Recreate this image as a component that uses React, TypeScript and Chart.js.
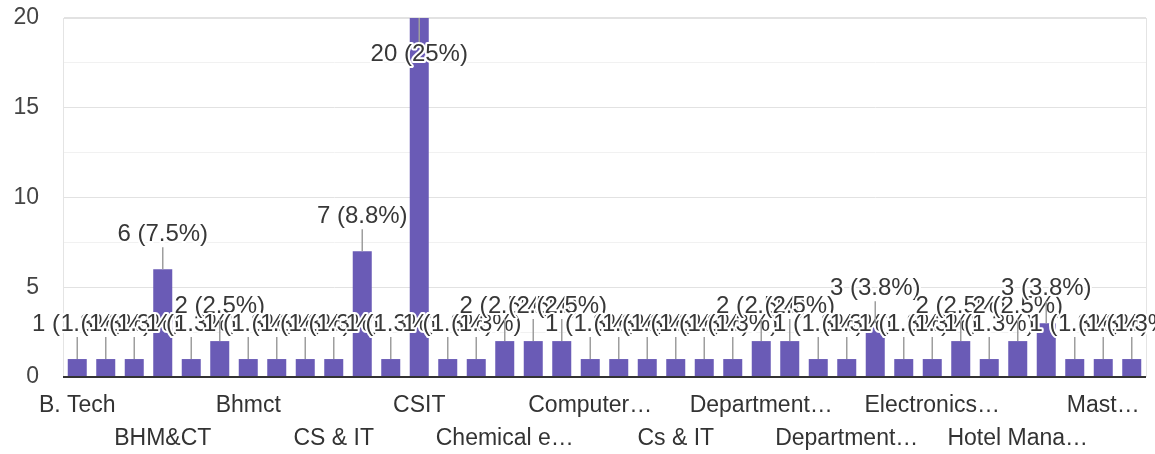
import React, { useEffect, useRef } from 'react';
import { Chart, registerables } from 'chart.js';

Chart.register(...registerables);

// Categories (only every third one is shown on the axis, as in the reference)
const categories: string[] = [
  'B. Tech', 'B.Tech', 'BBA', 'BHM&CT', 'BHMCT', 'BTech', 'Bhmct', 'CS', 'CS & E', 'CS & IT',
  'CS&IT', 'CSE', 'CSIT', 'Chemical', 'Chemical Engg', 'Chemical e…', 'Civil', 'Commerce',
  'Computer…', 'Computer science', 'Cs', 'Cs & IT', 'Cs&it', 'Csit', 'Department…',
  'Department of CS', 'Department of IT', 'Department…', 'ECE', 'EEE', 'Electronics…',
  'English', 'Hotel Management', 'Hotel Mana…', 'IT', 'MBA', 'Mast…', 'Mca',
];

// Number of responses per category
const responses: number[] = [
  1, 1, 1, 6, 1, 2, 1, 1, 1, 1,
  7, 1, 20, 1, 1, 2, 2, 2, 1, 1,
  1, 1, 1, 1, 2, 2, 1, 1, 3, 1,
  1, 2, 1, 2, 3, 1, 1, 1,
];

const yMin = 0;
const yMax = 20;
const yStep = 2.5;
const yLabelEvery = 5;

const BAR_COLOR = '#6a5bb6';
const FONT_FAMILY = '"Liberation Sans", Arial, sans-serif';

const total = responses.reduce((a, b) => a + b, 0);
const labelText = (v: number) => `${v} (${Math.round((v * 1000) / total) / 10}%)`;

const framePlugin = {
  id: 'gfFrame',
  beforeDatasetsDraw(chart: any) {
    const { ctx, chartArea: a } = chart;
    ctx.save();
    ctx.strokeStyle = '#e4e4e4';
    ctx.lineWidth = 1;
    ctx.beginPath();
    ctx.moveTo(a.right + 0.5, a.top);
    ctx.lineTo(a.right + 0.5, a.bottom);
    ctx.stroke();
    ctx.restore();
  },
  afterDatasetsDraw(chart: any) {
    const { ctx, chartArea: a } = chart;
    ctx.save();
    // baseline
    ctx.strokeStyle = '#333333';
    ctx.lineWidth = 2;
    ctx.beginPath();
    ctx.moveTo(a.left, a.bottom);
    ctx.lineTo(a.right, a.bottom);
    ctx.stroke();

    const meta = chart.getDatasetMeta(0);
    const values = chart.data.datasets[0].data as number[];
    ctx.font = `24px ${FONT_FAMILY}`;
    ctx.textAlign = 'center';
    ctx.textBaseline = 'middle';
    meta.data.forEach((bar: any, i: number) => {
      const x = bar.x;
      const top = bar.y;
      let ty: number, l0: number, l1: number;
      if (top - 36 < 14) {
        ty = top + 36;
        l0 = top;
        l1 = top + 24;
      } else {
        ty = top - 35;
        l0 = top - 22;
        l1 = top;
      }
      ctx.strokeStyle = '#9e9e9e';
      ctx.lineWidth = 1.5;
      ctx.beginPath();
      ctx.moveTo(x, l0);
      ctx.lineTo(x, l1);
      ctx.stroke();

      const t = labelText(values[i]);
      ctx.lineJoin = 'round';
      ctx.strokeStyle = '#ffffff';
      ctx.lineWidth = 4;
      ctx.strokeText(t, x, ty);
      ctx.fillStyle = '#383838';
      ctx.fillText(t, x, ty);
    });
    ctx.restore();
  },
};

export default function App() {
  const canvasRef = useRef<HTMLCanvasElement | null>(null);

  useEffect(() => {
    if (!canvasRef.current) return;
    const chart = new Chart(canvasRef.current, {
      type: 'bar',
      data: {
        labels: categories,
        datasets: [
          {
            data: responses,
            backgroundColor: BAR_COLOR,
            borderWidth: 0,
            barPercentage: 0.667,
            categoryPercentage: 1,
          },
        ],
      },
      options: {
        animation: false,
        responsive: false,
        layout: { padding: { top: 18, right: 9, left: 0, bottom: 0 } },
        plugins: { legend: { display: false }, tooltip: { enabled: false } },
        scales: {
          x: {
            offset: true,
            grid: { display: false },
            border: { display: false },
            ticks: {
              autoSkip: false,
              maxRotation: 0,
              minRotation: 0,
              padding: 5,
              color: '#333333',
              font: { family: FONT_FAMILY, size: 23, lineHeight: 1.4 },
              callback: (_v: any, index: number) => {
                if (index % 3 !== 0) return '';
                const label = categories[index];
                return Math.floor(index / 3) % 2 === 0 ? label : ['', label];
              },
            },
            afterFit: (scale: any) => {
              scale.height = 77;
              scale.paddingLeft = 0;
              scale.paddingRight = 0;
            },
          },
          y: {
            min: yMin,
            max: yMax,
            border: { display: true, color: '#e4e4e4', width: 1 },
            grid: {
              drawTicks: false,
              color: (c: any) =>
                c.tick && c.tick.value % yLabelEvery === 0 ? '#e2e2e2' : '#f1f1f1',
              lineWidth: (c: any) => (c.tick && c.tick.value === yMax ? 2 : 1),
            },
            ticks: {
              stepSize: yStep,
              padding: 24,
              color: '#444444',
              font: { family: FONT_FAMILY, size: 23 },
              callback: (v: any) => (Number(v) % yLabelEvery === 0 ? String(v) : ''),
            },
            afterFit: (scale: any) => {
              scale.width = 63;
              scale.paddingTop = 0;
              scale.paddingBottom = 0;
            },
          },
        },
      },
      plugins: [framePlugin],
    });
    return () => chart.destroy();
  }, []);

  return (
    <div style={{ position: 'absolute', left: 0, top: 0, width: 1155, height: 454, background: '#ffffff' }}>
      <canvas ref={canvasRef} width={1155} height={454} style={{ display: 'block' }} />
    </div>
  );
}
